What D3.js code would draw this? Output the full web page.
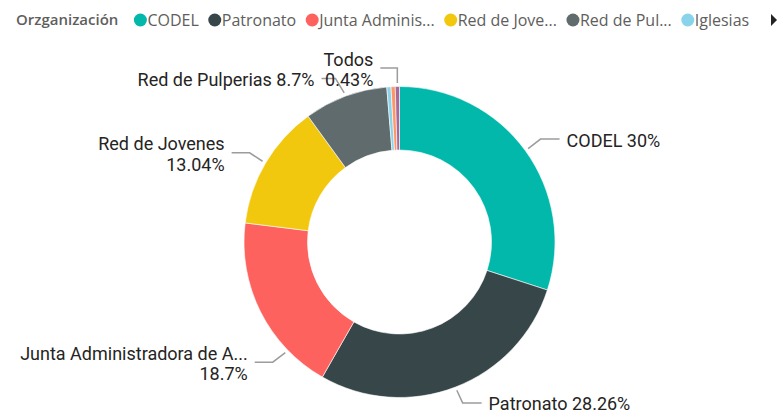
<!DOCTYPE html>
<html>
<head>
<meta charset="utf-8">
<script src="https://cdn.jsdelivr.net/npm/d3@7"></script>
<style>
  html, body { margin: 0; padding: 0; background: #fff; }
  svg { display: block; }
</style>
</head>
<body>
<svg id="chart" width="784" height="414"></svg>
<script>
// ---- data ----
const legendTitle = "Orzganización";
const categories = ["CODEL", "Patronato", "Junta Administradora de Agua", "Red de Jovenes", "Red de Pulperias", "Iglesias", "Otros", "Todos"];
const values = [69, 65, 43, 30, 20, 1, 1, 1];
const colors = ["#01B8AA", "#374649", "#FD625E", "#F2C80F", "#5F6B6D", "#8AD4EB", "#FE9666", "#A66999"];
const legendLabels = ["CODEL", "Patronato", "Junta Adminis...", "Red de Jove...", "Red de Pul...", "Iglesias"];
const labelNames = ["CODEL", "Patronato", "Junta Administradora de A...", "Red de Jovenes", "Red de Pulperias", null, null, "Todos"];

// ---- layout (styles / positions) ----
const W = 784, H = 414;
const cx = 399.5, cy = 242, R = 155.5, r0 = 92;
// per label: anchor fraction within slice, elbow offset, horizontal length, side, lines
const labelLayout = {
  0: { frac: 0.5,  dx: 12.4, dy: -9.5,  h: 19, side: "right", two: false },
  1: { frac: 0.5,  dx: 5.8,  dy: 12.6,  h: 19, side: "right", two: false },
  2: { frac: 0.24, dx: -12.6, dy: 9.5,  h: 18, side: "left",  two: true },
  3: { frac: 0.5,  dx: -12.9, dy: -8.4, h: 18, side: "left",  two: true },
  4: { frac: 0.5,  dx: -8.7, dy: -14.4, h: 14, side: "left",  two: false },
  7: { frac: 0.5,  dx: 0,    dy: -15,   h: 17, side: "left",  two: true }
};

const svg = d3.select("#chart");
const total = d3.sum(values);
const fmt = v => d3.format(".2~f")(v / total * 100) + "%";

const pie = d3.pie().sort(null).value(d => d)(values);
const arc = d3.arc().innerRadius(r0).outerRadius(R);

const g = svg.append("g").attr("transform", `translate(${cx},${cy})`);
g.selectAll("path.slice").data(pie).join("path")
  .attr("class", "slice")
  .attr("d", arc)
  .attr("fill", (d, i) => colors[i])
  .attr("stroke", "#fff")
  .attr("stroke-width", 0.6);

// ---- labels ----
const labelFont = "Roboto, 'DejaVu Sans', sans-serif";
const lg = svg.append("g").attr("transform", `translate(${cx},${cy})`);
pie.forEach((d, i) => {
  const L = labelLayout[i];
  if (!L) return;
  const a = d.startAngle + (d.endAngle - d.startAngle) * L.frac;
  const rr = R + 3.5;
  const ax = rr * Math.sin(a), ay = -rr * Math.cos(a);
  const ex = ax + L.dx, ey = ay + L.dy;
  const sx = L.side === "right" ? ex + L.h : ex - L.h;
  lg.append("path")
    .attr("d", `M${ax},${ay}L${ex},${ey}L${sx},${ey}`)
    .attr("fill", "none")
    .attr("stroke", "#9c9c9c")
    .attr("stroke-width", 1.5);
  const tx = L.side === "right" ? sx + 7 : sx - 7;
  const anchor = L.side === "right" ? "start" : "end";
  const t = lg.append("text")
    .attr("x", tx)
    .attr("text-anchor", anchor)
    .attr("font-family", labelFont)
    .attr("font-size", 18)
    .attr("fill", "#252423");
  const pct = fmt(values[i]);
  if (L.two) {
    t.append("tspan").attr("x", tx).attr("y", ey - 2.5).text(labelNames[i]);
    t.append("tspan").attr("x", tx).attr("y", ey + 18).text(pct);
  } else {
    t.attr("y", ey + 7.5).text(labelNames[i] + " " + pct);
  }
});

// ---- legend ----
const legend = svg.append("g").attr("transform", "translate(0,20)");
const legendFont = "'Open Sans', 'Segoe UI', sans-serif";
const title = legend.append("text")
  .attr("x", 16).attr("y", 0).attr("dy", "0.35em")
  .attr("font-family", legendFont).attr("font-size", 15).attr("font-weight", 600)
  .attr("fill", "#605E5C").text(legendTitle);
let lx = 16 + title.node().getComputedTextLength() + 15.5;
legendLabels.forEach((lab, i) => {
  legend.append("circle").attr("cx", lx + 6.5).attr("cy", 0).attr("r", 6.5).attr("fill", colors[i]);
  const t = legend.append("text")
    .attr("x", lx + 13.5).attr("y", 0).attr("dy", "0.35em")
    .attr("font-family", legendFont).attr("font-size", 16)
    .attr("fill", "#605E5C").text(lab);
  lx += 13.5 + t.node().getComputedTextLength() + 9.5;
});
// scroll arrow
legend.append("path")
  .attr("d", "M771,-6L777,0L771,6Z")
  .attr("fill", "#252423");
</script>
</body>
</html>
